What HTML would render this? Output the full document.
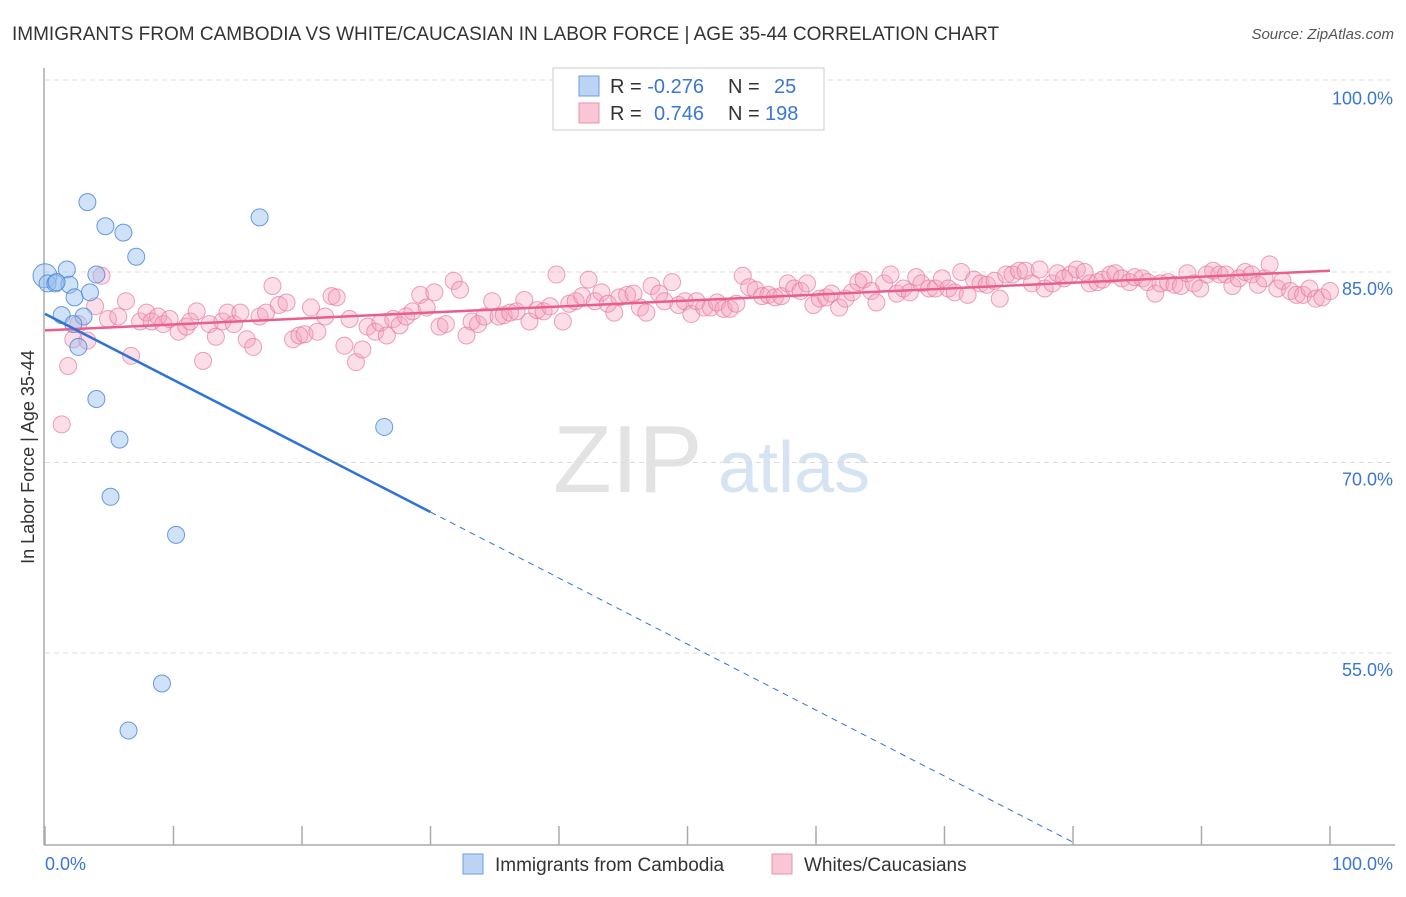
<!DOCTYPE html>
<html><head><meta charset="utf-8"><style>
body{margin:0;background:#fff;font-family:"Liberation Sans",sans-serif;}
svg text{font-family:"Liberation Sans",sans-serif;}
</style></head><body>
<svg id="chart" width="1406" height="892" viewBox="0 0 1406 892" xmlns="http://www.w3.org/2000/svg">
<text x="12" y="40" font-size="19" fill="#333">IMMIGRANTS FROM CAMBODIA VS WHITE/CAUCASIAN IN LABOR FORCE | AGE 35-44 CORRELATION CHART</text>
<text x="1394" y="39" font-size="15" fill="#555" text-anchor="end" font-style="italic">Source: ZipAtlas.com</text>
<g>
<text x="553" y="492" font-size="96" fill="#e3e3e3" font-family="Liberation Serif">ZIP</text>
<text x="718" y="492" font-size="72" fill="#d6e3f2">atlas</text>
</g>
<g id="grid"></g><g id="axes"></g><g id="pink"></g><g id="blue"></g><g id="trends"></g>
<text transform="translate(34,457) rotate(-90)" font-size="18" fill="#333" text-anchor="middle">In Labor Force | Age 35-44</text>
<g>
<rect x="553" y="68" width="271" height="62" fill="#fff" stroke="#ccc"/>
<rect x="579" y="76" width="20" height="20" fill="#bcd4f4" stroke="#6a9de0"/>
<rect x="579" y="103" width="20" height="20" fill="#f9c6d5" stroke="#ea90ad"/>
<text x="610" y="93" font-size="20" fill="#333">R = <tspan fill="#3b76d6">-0.276</tspan><tspan x="728">N = </tspan><tspan x="774" fill="#3b76d6">25</tspan></text>
<text x="610" y="120" font-size="20" fill="#333">R = <tspan x="654" fill="#3b76d6">0.746</tspan><tspan x="728">N = </tspan><tspan x="765" fill="#3b76d6">198</tspan></text>
</g>
<g>
<rect x="463" y="854" width="20" height="20" fill="#bcd4f4" stroke="#6a9de0"/>
<text x="495" y="871" font-size="19" fill="#333">Immigrants from Cambodia</text>
<rect x="772" y="854" width="20" height="20" fill="#f9c6d5" stroke="#ea90ad"/>
<text x="804" y="871" font-size="19" fill="#333">Whites/Caucasians</text>
</g>
</svg>
<script>
const yTicks=[100,85,70,55];
const yTickLabels=["100.0%","85.0%","70.0%","55.0%"];
const xTicks=[0,10,20,30,40,50,60,70,80,90,100];
const blueX=[0.0,0.2,0.8,1.7,1.9,1.3,2.3,3.3,4.7,6.1,7.1,4.0,3.5,3.0,2.2,2.6,4.0,5.8,5.1,10.2,9.1,6.5,16.7,26.4,0.9];
const blueY=[84.7,84.1,84.1,85.2,84.0,81.6,83.0,90.5,88.6,88.1,86.2,84.8,83.4,81.5,80.9,79.1,75.0,71.8,67.3,64.3,52.6,48.9,89.3,72.8,84.2];
const pinkX=[1.3,1.8,2.6,2.2,3.3,3.9,4.4,4.9,5.7,6.3,6.7,7.4,7.9,8.3,8.8,9.2,9.7,10.4,11.0,11.3,11.8,12.3,12.8,13.3,13.8,14.2,14.7,15.2,15.7,16.2,16.7,17.2,17.7,18.2,18.8,19.3,19.8,20.2,20.7,21.2,21.8,22.3,22.7,23.3,23.7,24.2,24.7,25.1,25.7,26.1,26.6,27.1,27.6,28.1,28.6,29.2,29.7,30.3,30.7,31.2,31.8,32.3,32.8,33.2,33.7,34.2,34.8,35.3,35.7,36.2,36.7,37.3,37.7,38.3,38.8,39.3,39.8,40.3,40.8,41.3,41.8,42.3,42.8,43.3,43.8,44.3,44.7,45.3,45.8,46.3,46.8,47.2,47.8,48.2,48.8,49.3,49.8,50.3,50.7,51.3,51.8,52.3,52.8,53.3,53.8,54.3,54.8,55.3,55.8,56.3,56.8,57.3,57.8,58.3,58.8,59.3,59.8,60.3,60.8,61.2,61.8,62.3,62.8,63.3,63.7,64.3,64.7,65.3,65.8,66.3,66.8,67.3,67.8,68.2,68.8,69.3,69.8,70.3,70.8,71.3,71.8,72.3,72.8,73.3,73.9,74.3,74.8,75.3,75.8,76.3,76.8,77.4,77.8,78.4,78.8,79.3,79.8,80.3,80.9,81.3,81.9,82.3,82.9,83.3,83.8,84.4,84.8,85.4,85.8,86.4,86.8,87.4,87.9,88.4,88.9,89.4,89.9,90.4,90.9,91.4,91.9,92.4,92.9,93.4,93.9,94.4,94.9,95.3,95.9,96.3,96.9,97.4,97.9,98.4,98.9,99.4,100.0];
const pinkY=[73.0,77.6,80.9,79.7,79.6,82.3,84.7,81.3,81.5,82.7,78.4,81.1,81.8,81.1,81.5,80.9,81.3,80.3,80.7,81.1,81.9,78.0,80.9,79.9,81.1,81.8,80.9,81.8,79.7,79.1,81.5,81.8,83.9,82.4,82.6,79.7,80.0,80.1,82.2,80.3,81.5,83.1,83.0,79.2,81.3,77.9,78.9,80.7,80.3,81.0,80.0,81.3,80.8,81.5,81.9,83.2,82.2,83.4,80.7,80.9,84.3,83.6,80.0,81.1,80.9,81.5,82.7,81.5,81.6,81.8,81.9,82.8,81.1,82.0,81.9,82.3,84.8,81.1,82.5,82.7,83.1,84.4,82.7,83.4,82.5,81.8,83.0,83.2,83.3,82.2,81.8,83.9,83.3,82.7,84.2,82.4,82.7,81.7,82.7,82.2,82.2,82.6,82.1,82.1,82.5,84.7,83.8,83.6,83.1,83.2,83.0,83.1,84.1,83.7,83.5,84.1,82.4,82.9,83.0,83.3,82.2,82.9,83.4,84.2,84.4,83.5,82.6,84.1,84.8,83.3,83.7,83.4,84.6,84.1,83.7,83.7,84.5,83.7,83.4,85.0,83.2,84.4,84.1,84.0,84.3,82.9,84.8,84.8,85.1,85.1,84.1,85.2,83.7,84.1,84.9,84.5,84.8,85.2,85.0,84.1,84.2,84.4,84.8,84.9,84.5,84.2,84.6,84.5,84.2,83.3,84.1,84.2,84.0,83.9,84.9,84.1,83.7,84.8,85.1,84.8,84.8,83.9,84.5,85.0,84.8,84.0,84.5,85.6,83.7,84.3,83.5,83.2,83.2,83.7,82.9,83.0,83.5];
const blueTrend=[81.7,-0.52];
const pinkTrend=[80.4,0.047];
const NS="http://www.w3.org/2000/svg";
const X0=45,X1=1330,Y100=81.5,PPY=12.7,YB=845;
function sx(v){return X0+(X1-X0)*v/100;}
function sy(v){return Y100+(100-v)*PPY;}
function mk(tag,attrs,parent){const e=document.createElementNS(NS,tag);for(const k in attrs)e.setAttribute(k,attrs[k]);document.getElementById(parent).appendChild(e);return e;}
mk('line',{x1:45,y1:80,x2:1395,y2:80,stroke:'#ddd','stroke-dasharray':'5,4'},'grid');
yTicks.forEach((t,i)=>{
 if(t<100){const g=mk('line',{x1:45,y1:sy(t),x2:1395,y2:sy(t),stroke:'#ddd','stroke-dasharray':'5,4'},'grid');
 
 }
 const tx=mk('text',{x:1393,y:sy(t)+23,'font-size':18,fill:'#3b76d6','text-anchor':'end'},'axes');
 tx.textContent=yTickLabels[i];
 
 
});
const ya=mk('line',{x1:44,y1:68,x2:44,y2:YB,stroke:'#aaa','stroke-width':1.5},'axes');


const xa=mk('line',{x1:44,y1:YB,x2:1395,y2:YB,stroke:'#aaa','stroke-width':1.5},'axes');


xTicks.forEach(t=>{const l=mk('line',{x1:sx(t),y1:826,x2:sx(t),y2:YB,stroke:'#aaa','stroke-width':1.5},'axes');
 
 });
const xl0=mk('text',{x:45,y:870,'font-size':18,fill:'#3b76d6'},'axes');xl0.textContent='0.0%';


const xl1=mk('text',{x:1393,y:870,'font-size':18,fill:'#3b76d6','text-anchor':'end'},'axes');xl1.textContent='100.0%';


pinkX.forEach((v,i)=>{const c=mk('circle',{cx:sx(v),cy:sy(pinkY[i]),r:8.5,fill:'rgba(244,160,188,0.35)',stroke:'rgba(232,120,158,0.7)','stroke-width':1},'pink');
 
 });
blueX.forEach((v,i)=>{const c=mk('circle',{cx:sx(v),cy:sy(blueY[i]),r:i==0?12:8.5,fill:'rgba(150,190,238,0.45)',stroke:'rgba(70,130,220,0.8)','stroke-width':1},'blue');
 
 });
const pt=mk('line',{x1:sx(0),y1:sy(pinkTrend[0]),x2:sx(100),y2:sy(pinkTrend[0]+pinkTrend[1]*100),stroke:'#e8608a','stroke-width':2.5},'trends');


const bEnd=(40-blueTrend[0])/blueTrend[1];
const bt=mk('line',{x1:sx(0),y1:sy(blueTrend[0]),x2:sx(30),y2:sy(blueTrend[0]+blueTrend[1]*30),stroke:'#2f72d8','stroke-width':2.5},'trends');


const bd=mk('line',{x1:sx(30),y1:sy(blueTrend[0]+blueTrend[1]*30),x2:sx(bEnd),y2:sy(40),stroke:'#2f72d8','stroke-width':1,'stroke-dasharray':'6,5'},'trends');


</script>
</body></html>
